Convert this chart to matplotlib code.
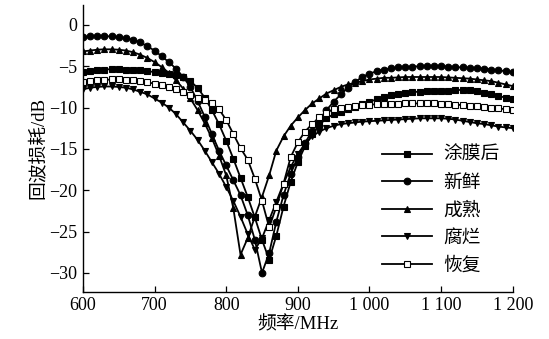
import numpy as np
import matplotlib
matplotlib.use('Agg')
import matplotlib.pyplot as plt

plt.rcParams['font.family'] = ['Liberation Serif', 'Noto Sans CJK SC']
plt.rcParams['axes.unicode_minus'] = True

freq = np.arange(600, 1201, 10)

coated = [-5.7, -5.6, -5.5, -5.4, -5.35, -5.35, -5.4, -5.45, -5.5, -5.6,
          -5.7, -5.8, -5.9, -6.0, -6.3, -6.8, -7.6, -8.8, -10.3, -12.0,
          -14.0, -16.2, -18.5, -20.8, -23.3, -26.0, -28.4, -25.5, -22.0, -19.0,
          -16.6, -14.7, -13.2, -12.1, -11.3, -10.8, -10.5, -10.2, -9.9, -9.6,
          -9.3, -9.0, -8.7, -8.5, -8.3, -8.2, -8.1, -8.1, -8.0, -8.0,
          -8.0, -7.95, -7.9, -7.85, -7.9, -8.0, -8.2, -8.4, -8.6, -8.8, -9.0]
fresh = [-1.5, -1.4, -1.35, -1.35, -1.4, -1.5, -1.6, -1.8, -2.1, -2.6,
         -3.1, -3.8, -4.5, -5.3, -6.3, -7.5, -9.2, -11.1, -13.2, -15.2,
         -17.0, -18.8, -20.6, -23.0, -26.0, -30.0, -27.6, -23.8, -20.6, -18.0,
         -16.0, -14.3, -12.8, -11.5, -10.3, -9.3, -8.4, -7.6, -6.9, -6.3,
         -5.9, -5.6, -5.4, -5.25, -5.15, -5.1, -5.05, -5.0, -5.0, -5.0,
         -5.0, -5.05, -5.1, -5.15, -5.2, -5.25, -5.3, -5.4, -5.5, -5.6, -5.7]
ripe = [-3.2, -3.1, -3.0, -2.95, -2.95, -3.0, -3.1, -3.3, -3.6, -4.0,
        -4.5, -5.1, -5.8, -6.7, -7.7, -8.9, -10.3, -11.9, -13.7, -15.8,
        -18.2, -22.2, -27.8, -25.8, -23.2, -20.8, -18.2, -15.2, -13.5, -12.2,
        -11.2, -10.3, -9.5, -8.9, -8.3, -7.9, -7.5, -7.2, -7.0, -6.8,
        -6.6, -6.5, -6.4, -6.4, -6.35, -6.3, -6.3, -6.3, -6.3, -6.3,
        -6.3, -6.35, -6.4, -6.45, -6.5, -6.6, -6.7, -6.8, -7.0, -7.2, -7.4]
rotten = [-7.8, -7.6, -7.5, -7.45, -7.45, -7.5, -7.6, -7.8, -8.1, -8.4,
          -8.9, -9.4, -10.0, -10.8, -11.8, -12.8, -13.9, -15.2, -16.6, -18.0,
          -19.6, -21.3, -23.2, -25.3, -27.2, -25.8, -23.6, -21.4, -19.2, -17.2,
          -15.6, -14.4, -13.5, -12.9, -12.5, -12.2, -12.0, -11.9, -11.8, -11.7,
          -11.65, -11.6, -11.55, -11.5, -11.45, -11.4, -11.35, -11.3, -11.3, -11.3,
          -11.3, -11.35, -11.45, -11.6, -11.75, -11.9, -12.0, -12.15, -12.3, -12.4, -12.5]
restored = [-6.9, -6.8, -6.7, -6.65, -6.6, -6.6, -6.65, -6.7, -6.8, -6.95,
            -7.1, -7.3, -7.5, -7.8, -8.1, -8.5, -8.8, -9.1, -9.5, -10.2,
            -11.5, -13.2, -14.9, -16.3, -18.6, -21.3, -24.5, -22.0, -19.2, -16.0,
            -14.2, -12.9, -12.0, -11.2, -10.6, -10.2, -10.0, -9.9, -9.8, -9.7,
            -9.65, -9.6, -9.6, -9.55, -9.55, -9.5, -9.5, -9.5, -9.5, -9.5,
            -9.55, -9.6, -9.65, -9.7, -9.75, -9.8, -9.9, -10.0, -10.1, -10.2, -10.3]

labels = ['涂膜后', '新鲜', '成熟', '腐烂', '恢复']
series = [coated, fresh, ripe, rotten, restored]
markers = ['s', 'o', '^', 'v', 's']
faces = ['black', 'black', 'black', 'black', 'white']

xticks = [600, 700, 800, 900, 1000, 1100, 1200]
xticklabels = ['600', '700', '800', '900', '1 000', '1 100', '1 200']
yticks = [0, -5, -10, -15, -20, -25, -30]

fig = plt.figure(figsize=(5.49, 3.39), dpi=100)
ax = fig.add_axes([0.151, 0.139, 0.783, 0.846])

for y, lab, m, fc in zip(series, labels, markers, faces):
    ax.plot(freq, y, color='black', lw=1.3, marker=m, ms=4.8,
            mfc=fc, mec='black', mew=0.8, label=lab)

ax.set_xlim(600, 1200)
ax.set_ylim(-32.3, 2.4)
ax.set_xticks(xticks)
ax.set_xticklabels(xticklabels)
ax.set_yticks(yticks)
ax.tick_params(direction='in', length=4, width=0.9, labelsize=13, pad=4)
ax.spines['top'].set_visible(False)
ax.spines['right'].set_visible(False)
for s in ['left', 'bottom']:
    ax.spines[s].set_linewidth(1.0)

ax.set_xlabel('频率/MHz', fontsize=13.5, labelpad=1)
ax.set_ylabel('回波损耗/dB', fontsize=13.5, labelpad=2)

ax.legend(loc='upper left', bbox_to_anchor=(0.695, 0.505), frameon=False,
          fontsize=13.5, handlelength=2.7, handletextpad=0.6, labelspacing=0.55,
          numpoints=1, borderaxespad=0, borderpad=0)

fig.savefig('out.png', dpi=100)
